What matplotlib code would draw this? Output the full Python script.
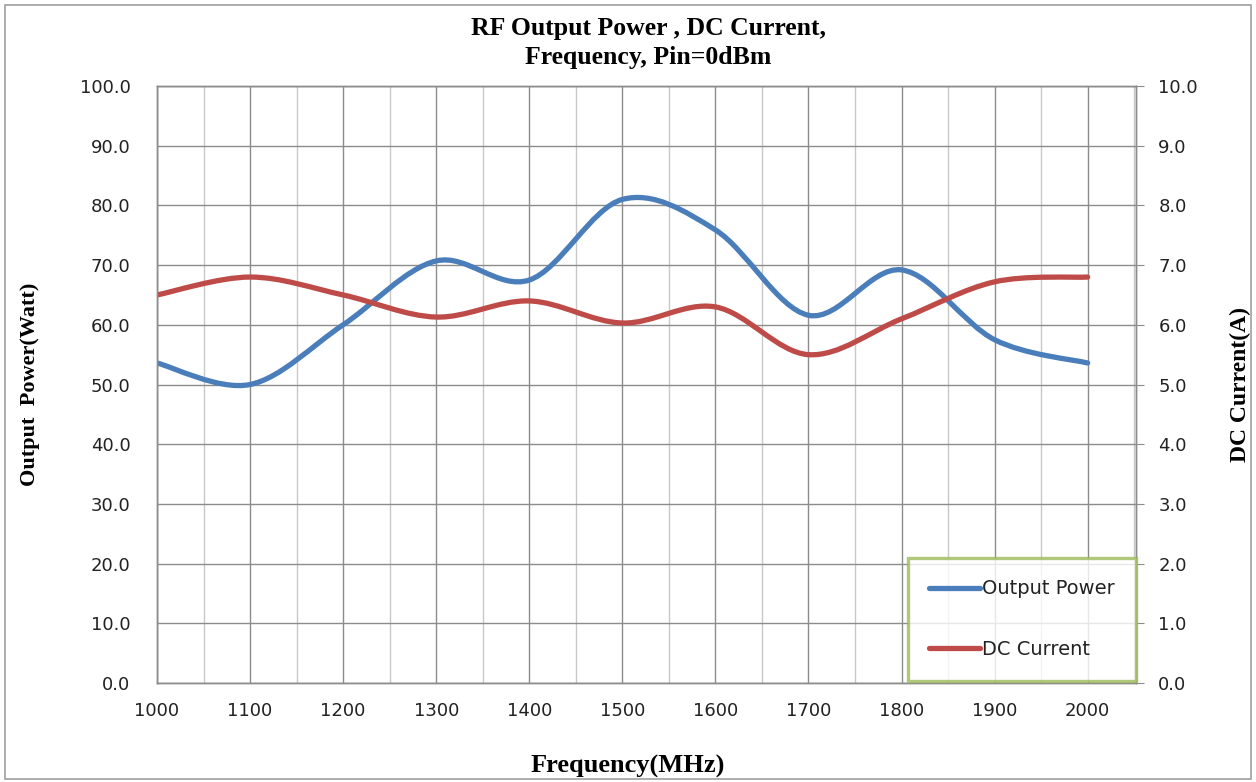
import numpy as np
import matplotlib.pyplot as plt
from matplotlib.path import Path
from matplotlib.patches import PathPatch, Rectangle
from matplotlib.lines import Line2D

freq = [1000, 1100, 1200, 1300, 1400, 1500, 1600, 1700, 1800, 1900, 2000]
potencia = [53.6, 50.0, 60.0, 70.7, 67.5, 81.0, 75.9, 61.6, 69.2, 57.5, 53.6]
corriente = [6.5, 6.8, 6.5, 6.13, 6.4, 6.03, 6.3, 5.5, 6.1, 6.72, 6.8]

AZUL = "#4A7EBB"
ROJO = "#BE4B48"
GRIS = "#8C8C8C"
SERIF = ["Liberation Serif", "DejaVu Serif"]


def camino_suave(x, y):
    """Bezier tipo Catmull-Rom (como el suavizado de Excel)."""
    p = np.column_stack([x, y]).astype(float)
    ext = np.vstack([p[0], p, p[-1]])
    verts, codes = [p[0]], [Path.MOVETO]
    for i in range(len(p) - 1):
        p0, p1, p2, p3 = ext[i], ext[i + 1], ext[i + 2], ext[i + 3]
        c1 = p1 + (p2 - p0) / 6.0
        c2 = p2 - (p3 - p1) / 6.0
        verts += [c1, c2, p2]
        codes += [Path.CURVE4] * 3
    return Path(verts, codes)


fig = plt.figure(figsize=(12.56, 7.82), dpi=100)
ax = fig.add_axes([0.125, 0.1266, 0.7795, 0.7634])
ax2 = ax.twinx()

ax.set_xlim(1000, 2052)
ax.set_ylim(0, 100)
ax2.set_ylim(0, 10)

ax.set_xticks(freq)
ax.set_xticks(np.arange(1050, 2051, 100), minor=True)
ax.set_yticks(np.arange(0, 101, 10))
ax2.set_yticks(np.arange(0, 11, 1))
ax.set_xticklabels([str(f) for f in freq])
ax.set_yticklabels([f"{v:.1f}" for v in np.arange(0, 101, 10)])
ax2.set_yticklabels([f"{v:.1f}" for v in np.arange(0, 11, 1)])

ax.grid(which="major", color=GRIS, lw=1.0)
ax.grid(which="minor", axis="x", color="#C8C8C8", lw=1.0)
ax.set_axisbelow(True)

for a in (ax, ax2):
    for s in a.spines.values():
        s.set_color(GRIS)
        s.set_linewidth(1.0)
ax.tick_params(axis="both", which="both", length=0, labelsize=13,
               colors="#222222")
ax.tick_params(axis="y", pad=19)
ax.tick_params(axis="x", pad=14)
ax2.tick_params(axis="y", length=6, color=GRIS, labelsize=13,
                colors="#222222", pad=10)

ax.add_patch(PathPatch(camino_suave(freq, potencia), fill=False,
                       edgecolor=AZUL, lw=3.8, capstyle="round",
                       joinstyle="round"))
ax2.add_patch(PathPatch(camino_suave(freq, corriente), fill=False,
                        edgecolor=ROJO, lw=3.8, capstyle="round",
                        joinstyle="round"))

handles = [Line2D([], [], color=AZUL, lw=3.8, solid_capstyle="round"),
           Line2D([], [], color=ROJO, lw=3.8, solid_capstyle="round")]
leg = ax2.legend(handles, ["Output Power", "DC Current"],
                 loc="lower right", bbox_to_anchor=(1.0, 0.004),
                 fontsize=14, frameon=True, fancybox=False,
                 handlelength=2.6, handletextpad=0.1, labelspacing=2.15,
                 borderpad=1.1, borderaxespad=0.0)
leg.get_frame().set_edgecolor("#9BBB59")
leg.get_frame().set_linewidth(2.4)
for t in leg.get_texts():
    t.set_color("#222222")

fig.text(0.516, 0.964, "RF Output Power , DC Current,", ha="center",
         va="center", fontsize=18.5, fontweight="bold", family=SERIF)
fig.text(0.516, 0.927, "Frequency, Pin=0dBm", ha="center", va="center",
         fontsize=18.5, fontweight="bold", family=SERIF)
ax.set_xlabel("Frequency(MHz)", fontsize=19, fontweight="bold",
              family=SERIF)
ax.set_ylabel("Output  Power(Watt)", fontsize=16, fontweight="bold",
              family=SERIF)
ax2.set_ylabel("DC Current(A)", fontsize=17, fontweight="bold",
               family=SERIF)
ax.xaxis.set_label_coords(0.481, -0.121)
ax.yaxis.set_label_coords(-0.119, 0.5)
ax2.yaxis.set_label_coords(1.096, 0.5)

fig.patches.append(Rectangle((0.004, 0.004), 0.992, 0.99,
                             transform=fig.transFigure, fill=False,
                             edgecolor="#A0A0A0", lw=1.2))

fig.savefig("out.png", dpi=100)
